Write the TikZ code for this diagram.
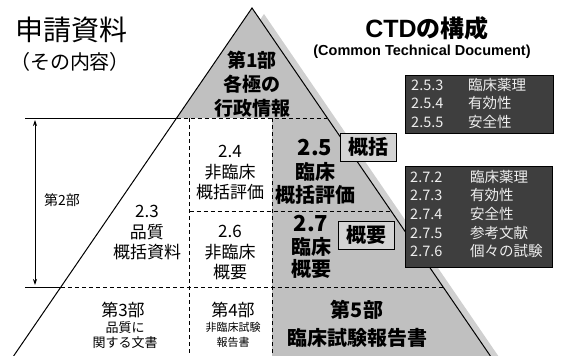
\documentclass[tikz,border=0pt]{standalone}
\usepackage{fontspec}
\setmainfont{Noto Sans CJK JP}
\newfontfamily\arial{Liberation Sans}
\usetikzlibrary{arrows.meta}
\definecolor{pyrgray}{RGB}{192,192,192}
\definecolor{shadowgray}{RGB}{208,208,208}
\definecolor{boxdark}{RGB}{62,62,62}
\definecolor{tagfill}{RGB}{212,212,212}
\definecolor{boxtext}{RGB}{238,238,238}
\begin{document}
\begin{tikzpicture}[x=1pt,y=-1pt,
  divline/.style={line width=0.8pt, dash pattern=on 4pt off 3pt},
  solidline/.style={line width=1pt},
  edgeline/.style={line width=1pt},
  txt/.style={align=center, inner sep=0pt},
  tag/.style={draw, line width=0.7pt, fill=tagfill, minimum width=56pt, minimum height=28pt, inner sep=0pt, font=\fontsize{20}{22}\selectfont\bfseries},
  darkbox/.style={draw=black, fill=boxdark, inner sep=0pt, anchor=north west},
  boxlist/.style={anchor=north west, inner sep=0pt, text=boxtext, font=\fontsize{14.5}{18.6}\selectfont, align=left}
]
\useasboundingbox (0,0) rectangle (571,356);
\clip (0,0) rectangle (571,356);
% pyramid corners
\coordinate (apex) at (252,8);
\coordinate (bl) at (13.6,356);
\coordinate (br) at (490.4,356);
% shadow
\fill[shadowgray] (264,14) -- (25.6,362) -- (502.4,362) -- cycle;
% pyramid body
\fill[white] (apex) -- (bl) -- (br) -- cycle;
\fill[pyrgray] (apex) -- (176.7,118) -- (327.3,118) -- cycle;
\fill[pyrgray] (272,118) -- (327.3,118) -- (br) -- (272,356) -- cycle;
% division lines
\coordinate (l1a) at (25,118);
\coordinate (l1b) at (176.7,118);
\coordinate (l1c) at (327.3,118);
\coordinate (l2a) at (25,287.5);
\coordinate (l2b) at (60.9,287.5);
\coordinate (l2c) at (443.1,287.5);
\coordinate (v1a) at (189.5,118);
\coordinate (v1b) at (189.5,356);
\coordinate (v2a) at (272,118);
\coordinate (v2b) at (272,356);
\coordinate (h3a) at (189.5,211);
\coordinate (h3b) at (391,211);
\draw[solidline] (l1a) -- (l1b);
\draw[divline] (l1b) -- (l1c);
\draw[solidline] (l2a) -- (l2b);
\draw[divline] (l2b) -- (l2c);
\draw[divline] (v1a) -- (v1b);
\draw[divline] (v2a) -- (v2b);
\draw[divline] (h3a) -- (h3b);
% pyramid edges
\draw[edgeline] (bl) -- (apex) -- (br);
% arrow for part 2
\coordinate (arTop) at (35,120);
\coordinate (arBot) at (35,285);
\draw[line width=0.8pt, {Stealth[length=6pt,width=4pt]}-{Stealth[length=6pt,width=4pt]}] (arTop) -- (arBot);
\node[txt, font=\fontsize{14}{16}\selectfont] (part2) at (62,200) {第2部};
% titles
\node[txt, font=\fontsize{28}{30}\selectfont] (title1) at (72,30) {申請資料};
\node[txt, font=\fontsize{20}{22}\selectfont] (title2) at (70,62) {（その内容）};
\node[txt, font=\fontsize{24}{26}\selectfont\bfseries] (title3) at (427,28.5) {{\arial\fontsize{25}{26}\selectfont\bfseries CTD}の構成};
\node[txt, font=\fontsize{14.5}{16}\selectfont] (title4) at (422,51.5) {\arial\bfseries (Common Technical Document)};
% pyramid texts
\node[txt, font=\fontsize{19}{24}\selectfont\bfseries] (p1) at (252,84) {第1部\\各極の\\行政情報};
\node[txt, font=\fontsize{20}{23.5}\selectfont\bfseries] (p25) at (315,172) {{\fontsize{22}{23.5}\selectfont 2.5}\\臨床\\概括評価};
\node[txt, font=\fontsize{20}{22.5}\selectfont\bfseries] (p27) at (311,247) {{\fontsize{22}{22.5}\selectfont 2.7}\\臨床\\概要};
\node[txt, font=\fontsize{17}{20.5}\selectfont] (p24) at (230,173) {2.4\\非臨床\\概括評価};
\node[txt, font=\fontsize{17}{20.5}\selectfont] (p26) at (230,253) {2.6\\非臨床\\概要};
\node[txt, font=\fontsize{17}{20.5}\selectfont] (p23) at (147,233) {2.3\\品質\\概括資料};
\node[txt, font=\fontsize{17}{19}\selectfont] (p3) at (123,310) {第3部};
\node[txt, font=\fontsize{13}{14.5}\selectfont] (p3s) at (125,335) {品質に\\関する文書};
\node[txt, font=\fontsize{17}{19}\selectfont] (p4) at (233,310) {第4部};
\node[txt, font=\fontsize{11}{14.5}\selectfont] (p4s) at (233,335) {非臨床試験\\報告書};
\node[txt, font=\fontsize{20}{28}\selectfont\bfseries] (p5) at (357,324) {第5部\\臨床試験報告書};
% tags
\node[tag] (tag1) at (368,147) {概括};
\node[tag] (tag2) at (366.5,235) {概要};
% dark boxes
\node[darkbox, minimum width=148pt, minimum height=58pt] (db1) at (405,75) {};
\node[boxlist] (list1) at (411,77) {\begin{tabular}{@{}p{57pt}@{}l@{}}2.5.3 & 臨床薬理\\2.5.4 & 有効性\\2.5.5 & 安全性\end{tabular}};
\node[darkbox, minimum width=147pt, minimum height=101pt] (db2) at (405,166) {};
\node[boxlist] (list2) at (410,169) {\begin{tabular}{@{}p{60pt}@{}l@{}}2.7.2 & 臨床薬理\\2.7.3 & 有効性\\2.7.4 & 安全性\\2.7.5 & 参考文献\\2.7.6 & 個々の試験\end{tabular}};
\end{tikzpicture}
\end{document}
